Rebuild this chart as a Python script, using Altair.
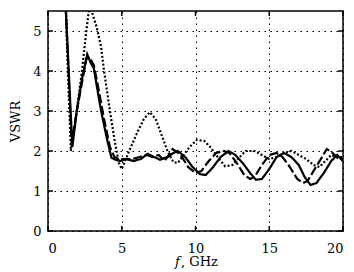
import altair as alt
import pandas as pd

# Series 1: solid
solid_f = [1.0, 1.2, 1.65, 1.95, 2.3, 2.66, 2.9, 3.1, 3.6, 4.0, 4.3, 4.6, 4.9, 5.3, 5.8, 6.3, 6.75, 7.2, 7.6, 8.1, 8.5, 8.8, 9.3, 9.8, 10.3, 10.7, 11.2, 11.7, 12.25, 12.7, 13.2, 13.7, 14.1, 14.5, 15.0, 15.5, 16.0, 16.5, 17.0, 17.4, 17.8, 18.2, 18.7, 19.2, 19.6, 20.0]
solid_v = [8.0, 5.6, 2.1, 3.0, 3.8, 4.42, 4.2, 4.07, 3.0, 2.3, 1.83, 1.78, 1.75, 1.8, 1.75, 1.8, 1.93, 1.85, 1.78, 1.85, 1.95, 2.0, 1.85, 1.6, 1.42, 1.4, 1.6, 1.85, 2.0, 1.9, 1.7, 1.45, 1.28, 1.3, 1.55, 1.85, 1.95, 1.85, 1.65, 1.35, 1.15, 1.2, 1.45, 1.75, 1.9, 1.75]

# Series 2: dashed
dash_f = [1.0, 1.2, 1.6, 2.0, 2.3, 2.6, 2.8, 3.1, 3.4, 3.8, 4.2, 4.5, 4.8, 5.2, 5.7, 6.2, 6.7, 7.1, 7.5, 7.9, 8.2, 8.45, 9.0, 9.5, 10.0, 10.4, 10.9, 11.4, 11.9, 12.3, 12.8, 13.3, 13.7, 14.0, 14.5, 15.0, 15.5, 15.9, 16.4, 16.9, 17.3, 17.6, 18.0, 18.5, 18.9, 19.3, 19.7, 20.0]
dash_v = [8.0, 5.6, 2.2, 3.1, 3.7, 4.3, 4.35, 4.15, 3.6, 2.8, 2.1, 1.85, 1.8, 1.8, 1.8, 1.85, 1.9, 1.85, 1.9, 1.75, 1.9, 2.05, 1.9, 1.6, 1.45, 1.5, 1.75, 1.95, 2.0, 1.95, 1.7, 1.4, 1.3, 1.35, 1.65, 1.9, 1.95, 1.85, 1.6, 1.3, 1.2, 1.25, 1.5, 1.8, 2.05, 1.95, 1.8, 1.8]

# Series 3: dotted
dot_f = [1.1, 1.3, 1.55, 1.95, 2.3, 2.6, 2.8, 3.0, 3.3, 3.6, 3.8, 4.2, 4.5, 4.8, 5.0, 5.5, 6.1, 6.5, 6.9, 7.3, 7.6, 8.1, 8.5, 8.8, 9.2, 9.6, 10.1, 10.6, 11.0, 11.5, 12.0, 12.5, 13.0, 13.4, 14.0, 14.5, 15.0, 15.5, 16.0, 16.5, 17.0, 17.5, 18.0, 18.4, 18.8, 19.2, 19.6, 20.0]
dot_v = [7.0, 4.5, 2.0, 3.0, 4.0, 5.0, 5.6, 5.45, 5.1, 4.6, 4.0, 3.0, 2.3, 1.7, 1.55, 2.0, 2.5, 2.8, 2.97, 2.8, 2.5, 2.0, 1.72, 1.7, 1.9, 2.1, 2.28, 2.25, 2.1, 1.85, 1.62, 1.65, 1.85, 2.0, 2.0, 1.9, 1.8, 1.85, 1.95, 2.0, 1.9, 1.8, 1.65, 1.6, 1.75, 1.9, 1.85, 1.85]

x_ticks = [0, 5, 10, 15, 20]
y_ticks = [0, 1, 2, 3, 4, 5]

W, H = 295, 220
FONT = "DejaVu Serif"

rows = []
for name, fs, vs in [("solid", solid_f, solid_v), ("dashed", dash_f, dash_v), ("dotted", dot_f, dot_v)]:
    for i, (f, v) in enumerate(zip(fs, vs)):
        rows.append({"series": name, "f": f, "v": v, "order": i})
df = pd.DataFrame(rows)

xscale = alt.Scale(domain=[0, 20], nice=False, zero=False)
yscale = alt.Scale(domain=[0, 5.5], nice=False, zero=False)

lines = alt.Chart(df).mark_line(clip=True, color="black", strokeWidth=2.2).encode(
    x=alt.X("f:Q", scale=xscale,
            axis=alt.Axis(values=x_ticks, title=None, grid=True, gridDash=[1.5, 4.5], gridColor="black",
                          gridOpacity=1, gridWidth=1, ticks=False, domain=False, labelPadding=11,
                          labelFont=FONT, labelFontSize=13, labelColor="black")),
    y=alt.Y("v:Q", scale=yscale,
            axis=alt.Axis(values=y_ticks, title="VSWR", grid=True, gridDash=[1.5, 4.5], gridColor="black",
                          gridOpacity=1, gridWidth=1, ticks=False, domain=False, labelPadding=7,
                          labelFont=FONT, labelFontSize=13, labelColor="black",
                          titleFont=FONT, titleFontSize=13, titleFontWeight="normal", titleColor="black",
                          titlePadding=10)),
    strokeDash=alt.StrokeDash("series:N", scale=alt.Scale(domain=["solid", "dashed", "dotted"],
                                                         range=[[1, 0], [9, 3], [2, 2]]), legend=None),
    detail="series:N",
    order="order:Q",
)

xt = pd.DataFrame({"t": x_ticks})
yt = pd.DataFrame({"t": y_ticks})
xb = alt.Chart(xt).mark_rule(color="black", strokeWidth=1.5).encode(
    x=alt.X("t:Q", scale=xscale), y=alt.value(H), y2=alt.value(H - 5))
xtop = alt.Chart(xt).mark_rule(color="black", strokeWidth=1.5).encode(
    x=alt.X("t:Q", scale=xscale), y=alt.value(0), y2=alt.value(5))
yl = alt.Chart(yt).mark_rule(color="black", strokeWidth=1.5).encode(
    y=alt.Y("t:Q", scale=yscale), x=alt.value(0), x2=alt.value(5))
yr = alt.Chart(yt).mark_rule(color="black", strokeWidth=1.5).encode(
    y=alt.Y("t:Q", scale=yscale), x=alt.value(W), x2=alt.value(W - 5))

t1 = alt.Chart(pd.DataFrame({"s": ["f"]})).mark_text(
    font=FONT, fontSize=13, fontStyle="italic", align="left", baseline="middle", color="black"
).encode(text="s:N", x=alt.value(127), y=alt.value(H + 31))
t2 = alt.Chart(pd.DataFrame({"s": [", GHz"]})).mark_text(
    font=FONT, fontSize=13, align="left", baseline="middle", color="black"
).encode(text="s:N", x=alt.value(133), y=alt.value(H + 31))

chart = alt.layer(lines, xb, xtop, yl, yr, t1, t2).properties(
    width=W, height=H,
    autosize=alt.AutoSizeParams(type="none"),
    padding={"left": 40, "top": 3, "right": 3, "bottom": 41},
).configure_view(stroke="black", strokeWidth=1.5)

chart.save("out.html", embed_options={"renderer": "svg", "actions": False})
